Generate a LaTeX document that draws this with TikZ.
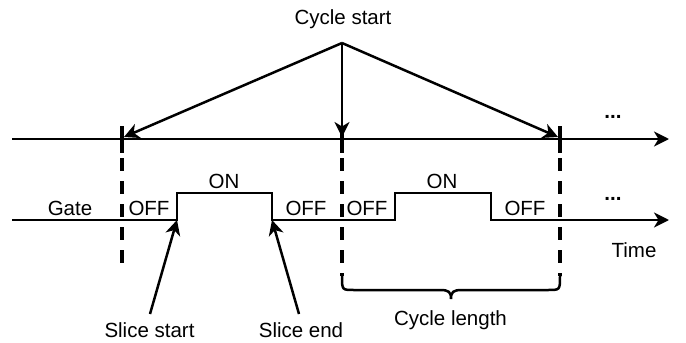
\documentclass[tikz,border=0pt]{standalone}
\usepackage{fontspec}
\setmainfont{Liberation Sans}
\usetikzlibrary{arrows.meta}
\begin{document}
\begin{tikzpicture}[x=1pt,y=-1pt,
  lbl/.style={font=\fontsize{20.5}{24}\selectfont, inner sep=0pt, anchor=base},
  axis/.style={line width=2.5pt, line join=miter, -{Stealth[length=15pt,width=15pt,inset=4.5pt]}},
  ptr/.style={line width=2.5pt, -{Stealth[length=15pt,width=15pt,inset=4.5pt]}},
  tickmark/.style={line width=4pt},
  guide/.style={line width=3.8pt, dash pattern=on 13pt off 10pt},
  bracestyle/.style={line width=2.5pt}]
\useasboundingbox (0,0) rectangle (686,343);
% top axis
\coordinate (apex) at (342,43);
\coordinate (a0) at (12,139);
\coordinate (a1) at (669,139);
\draw[axis] (a0) -- (a1);
% ticks and guides
\foreach \n/\x/\e in {1/122/270, 2/342/276, 3/560/276} {
  \coordinate (tt\n) at (\x,126);
  \coordinate (tb\n) at (\x,153);
  \coordinate (gs\n) at (\x,158);
  \coordinate (ge\n) at (\x,\e);
  \draw[tickmark] (tt\n) -- (tb\n);
  \draw[guide] (gs\n) -- (ge\n);
}
\coordinate (h1) at (124,137);
\coordinate (h2) at (342,137);
\coordinate (h3) at (558,137);
\draw[ptr] (apex) -- (h1);
\draw[ptr] (apex) -- (h2);
\draw[ptr] (apex) -- (h3);
% gate waveform
\coordinate (g0) at (12,220);
\coordinate (r1b) at (177,220);
\coordinate (r1t) at (177,193);
\coordinate (f1t) at (272,193);
\coordinate (f1b) at (272,220);
\coordinate (r2b) at (395,220);
\coordinate (r2t) at (395,193);
\coordinate (f2t) at (491,193);
\coordinate (f2b) at (491,220);
\coordinate (g1) at (669,220);
\draw[axis] (g0) -- (r1b) -- (r1t) -- (f1t) -- (f1b) -- (r2b) -- (r2t) -- (f2t) -- (f2b) -- (g1);
% slice arrows
\coordinate (sst) at (150,314);
\coordinate (set) at (299,314);
\draw[ptr] (sst) -- (r1b);
\draw[ptr] (set) -- (f1b);
% brace
\coordinate (bl) at (342,276);
\coordinate (br) at (560,276);
\coordinate (bm) at (451,299);
\draw[bracestyle] (bl) .. controls (342,290) .. (354,290) -- (440,290)
  .. controls (449,290) and (451,292) .. (bm)
  .. controls (451,292) and (453,290) .. (462,290) -- (548,290)
  .. controls (560,290) .. (br);
% labels
\node[lbl] (cs) at (343,24) {Cycle start};
\node[lbl] (gate) at (70,215) {Gate};
\node[lbl] (off1) at (149,215) {OFF};
\node[lbl] (on1) at (224,188) {ON};
\node[lbl] (off2) at (306,215) {OFF};
\node[lbl] (off3) at (367,215) {OFF};
\node[lbl] (on2) at (442,188) {ON};
\node[lbl] (off4) at (525,215) {OFF};
\node[lbl] (dots1) at (613,118) {\textbf{...}};
\node[lbl] (dots2) at (613,200) {\textbf{...}};
\node[lbl] (time) at (634,257) {Time};
\node[lbl] (ss) at (149.5,337) {Slice start};
\node[lbl] (se) at (301,337) {Slice end};
\node[lbl] (cl) at (450.5,325) {Cycle length};
\end{tikzpicture}
\end{document}
